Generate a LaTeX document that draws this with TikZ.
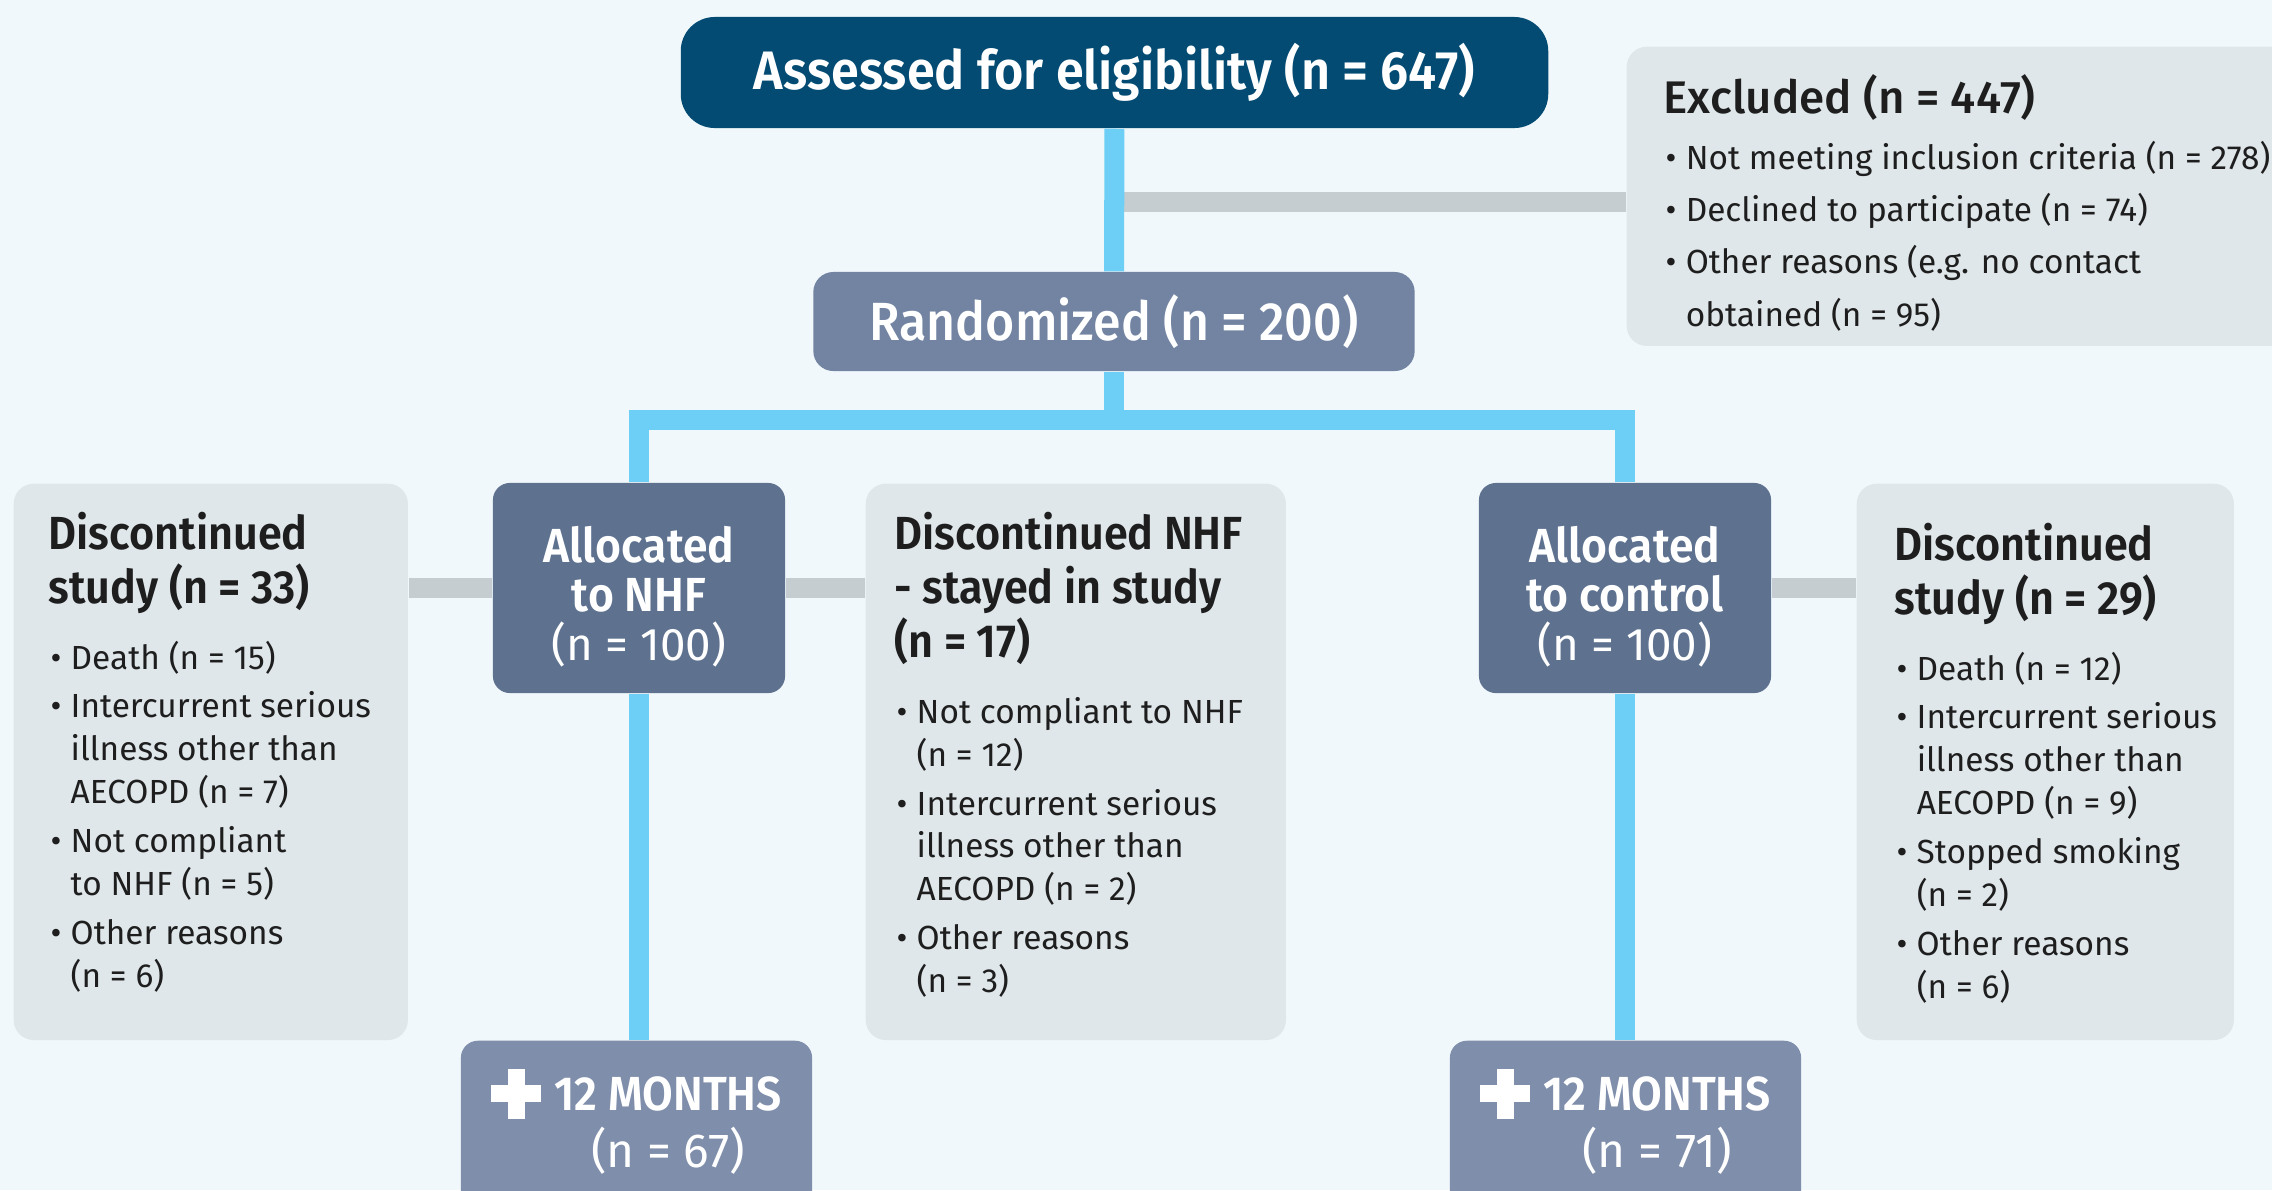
\documentclass[tikz,border=0pt]{standalone}
\usepackage{fontspec}
\setmainfont{Fira Sans}[BoldFont={Fira Sans SemiBold}, BoldFeatures={FakeStretch=0.93}]
\newfontfamily\medfont{Fira Sans Medium}[FakeStretch=0.93]
\newfontfamily\exclfont{Fira Sans Medium}
\usepackage{tikz}
\usetikzlibrary{positioning, calc}
\usepackage{xcolor}
\definecolor{bgcol}{HTML}{F0F8FB}
\definecolor{navy}{HTML}{034B73}
\definecolor{randcol}{HTML}{7284A2}
\definecolor{alloccol}{HTML}{5E7290}
\definecolor{monthcol}{HTML}{7F8EAB}
\definecolor{boxgrey}{HTML}{DFE7EA}
\definecolor{flowblue}{HTML}{6DCFF6}
\definecolor{linkgrey}{HTML}{C5CDD0}
\definecolor{inkdark}{HTML}{1E1E1E}
\newcommand{\boxhead}[1]{{\fontsize{13.2}{15.4}\selectfont\bfseries #1\par}}
\newcommand{\bitem}[2][0.22cm]{\par\begingroup\let\\\newline\hangindent=#1\hangafter=1\noindent\makebox[#1][l]{\hspace{0.02cm}\textbullet}#2\par\endgroup}
\newcommand{\plusmark}{\rlap{\rule[0.08cm]{0.5cm}{0.17cm}}\hspace{0.165cm}\rule[-0.085cm]{0.17cm}{0.5cm}\hspace{0.165cm}\hspace{0.13cm}}
\tikzstyle{assessbox} = [rectangle, rounded corners=0.34cm, minimum width=8.67cm, minimum height=1.11cm, fill=navy, text=white, font=\fontsize{15.4}{18}\selectfont\bfseries]
\tikzstyle{randbox} = [rectangle, rounded corners=0.2cm, minimum width=6.01cm, minimum height=0.99cm, fill=randcol, text=white, font=\medfont\fontsize{15.3}{18}\selectfont]
\tikzstyle{allocbox} = [rectangle, rounded corners=0.17cm, minimum width=2.92cm, minimum height=2.1cm, fill=alloccol]
\tikzstyle{alloctext} = [inner sep=0pt, text=white, align=center, font=\fontsize{13.6}{13.9}\selectfont]
\tikzstyle{monthbox} = [rectangle, rounded corners=0.17cm, minimum width=3.51cm, minimum height=1.9cm, fill=monthcol, anchor=north]
\tikzstyle{monthtext} = [inner sep=0pt, text=white, font=\fontsize{13.6}{15.6}\selectfont]
\tikzstyle{greybox} = [rectangle, rounded corners=0.2cm, fill=boxgrey, anchor=north west, minimum height=5.56cm]
\tikzstyle{boxtext} = [inner sep=0pt, text=inkdark, font=\fontsize{9.5}{12.2}\selectfont]
\tikzstyle{bline} = [line width=0.2cm, draw=flowblue]
\tikzstyle{gline} = [line width=0.2cm, draw=linkgrey]

\begin{document}
\begin{tikzpicture}[x=0.01cm, y=-0.01cm]
        \clip (0,0) rectangle (2272,1190);
        \fill[bgcol] (0,0) rectangle (2272,1190);

        \node (assess) [assessbox] at (1114.5,72.5) {Assessed for eligibility (n = 647)};
        \node (rand) [randbox] at (1114,321.5) {Randomized (n = 200)};
        \node (excl) [greybox, minimum width=6.7cm, minimum height=2.99cm] at (1626,46) {};
        \node (exclt) [boxtext, below right=0.28cm and 0.37cm of excl.north west] {\parbox[t]{6.5cm}{\raggedright
            {\exclfont\fontsize{13}{15}\selectfont Excluded (n = 447)\par}
            \fontsize{9.5}{14.9}\selectfont\vspace{0.03cm}
            \bitem{Not meeting inclusion criteria (n = 278)}
            \bitem{Declined to participate (n = 74)}
            \bitem{Other reasons (e.g. no contact\\obtained (n = 95)}}};

        \node (allocn) [allocbox] at (639,588) {};
        \node (allocnt) [alloctext, yshift=-0.09cm] at (allocn) {\textbf{Allocated}\\\textbf{to NHF}\\{\fontsize{13}{13.9}\selectfont(n = 100)}};
        \node (allocc) [allocbox] at (1625,588) {};
        \node (allocct) [alloctext, yshift=-0.09cm] at (allocc) {\textbf{Allocated}\\\textbf{to control}\\{\fontsize{13}{13.9}\selectfont(n = 100)}};

        \node (discl) [greybox, minimum width=3.94cm] at (13,483) {};
        \node (disclt) [boxtext, below right=0.28cm and 0.35cm of discl.north west] {\parbox[t]{5cm}{\raggedright
            \boxhead{Discontinued\\study (n = 33)}\vspace{0.23cm}
            \bitem{Death (n = 15)}\vspace{0.06cm}
            \bitem{Intercurrent serious\\illness other than\\AECOPD (n = 7)}\vspace{0.06cm}
            \bitem{Not compliant\\to NHF (n = 5)}\vspace{0.06cm}
            \bitem{Other reasons\\(n = 6)}}};

        \node (discn) [greybox, minimum width=4.2cm] at (865,483) {};
        \node (discnt) [boxtext, below right=0.28cm and 0.29cm of discn.north west] {\parbox[t]{5cm}{\raggedright
            \boxhead{Discontinued NHF\\- stayed in study\\(n = 17)}\vspace{0.23cm}
            \bitem{Not compliant to NHF\\(n = 12)}\vspace{0.06cm}
            \bitem{Intercurrent serious\\illness other than\\AECOPD (n = 2)}\vspace{0.06cm}
            \bitem{Other reasons\\(n = 3)}}};

        \node (discc) [greybox, minimum width=3.77cm] at (1856,483) {};
        \node (discct) [boxtext, below right=0.39cm and 0.38cm of discc.north west] {\parbox[t]{5cm}{\raggedright
            \boxhead{Discontinued\\study (n = 29)}\vspace{0.23cm}
            \bitem{Death (n = 12)}\vspace{0.06cm}
            \bitem{Intercurrent serious\\illness other than\\AECOPD (n = 9)}\vspace{0.06cm}
            \bitem{Stopped smoking\\(n = 2)}\vspace{0.06cm}
            \bitem{Other reasons\\(n = 6)}}};

        \node (monthn) [monthbox] at (636.5,1040) {};
        \node (monthnt) [monthtext, below=0.28cm of monthn.north] {\plusmark\begin{tabular}[t]{@{}c@{}}\textbf{12 MONTHS}\\(n = 67)\end{tabular}};
        \node (monthc) [monthbox] at (1625.5,1040) {};
        \node (monthct) [monthtext, below=0.28cm of monthc.north] {\plusmark\begin{tabular}[t]{@{}c@{}}\textbf{12 MONTHS}\\(n = 71)\end{tabular}};

        \coordinate (split) at (1114,420);
        \draw [gline] ([yshift=-0.06cm]assess.south |- excl.west) -- ([yshift=-0.06cm]excl.west);
        \draw [gline] (allocn.west) -- (allocn.west -| discl.east);
        \draw [gline] (allocn.east) -- (allocn.east -| discn.west);
        \draw [gline] (allocc.east) -- (allocc.east -| discc.west);
        \draw [bline] (assess) -- (rand);
        \draw [bline] (rand) -- (split);
        \draw [bline] (split) -| (allocn);
        \draw [bline] (split) -| (allocc);
        \draw [bline] (allocn.south) -- (allocn.south |- monthn.north);
        \draw [bline] (allocc.south) -- (allocc.south |- monthc.north);
    \end{tikzpicture}
\end{document}
